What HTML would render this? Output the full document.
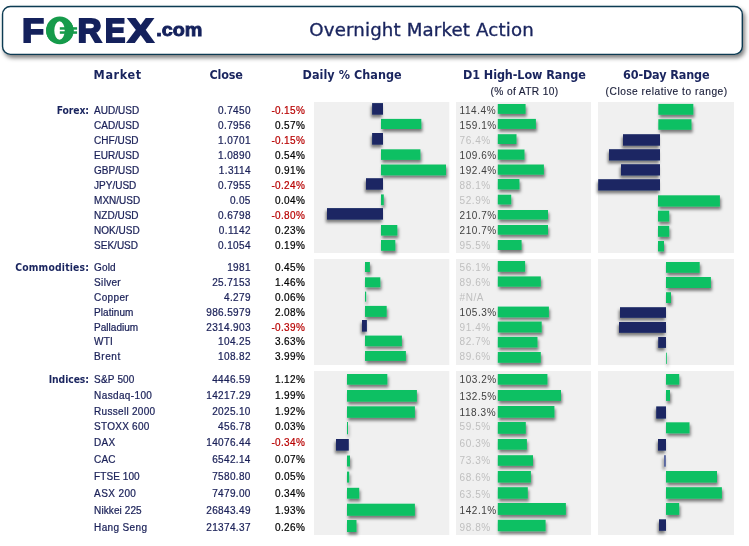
<!DOCTYPE html>
<html lang="en"><head><meta charset="utf-8"><title>Overnight Market Action</title>
<style>
html,body{margin:0;padding:0;background:#fff;}
body{width:749px;height:546px;overflow:hidden;position:relative;font-family:"Liberation Sans",sans-serif;}
svg{position:absolute;left:0;top:0;display:block;}
text{font-family:"Liberation Sans",sans-serif;font-size:10px;}
.hd{font-family:"DejaVu Sans Condensed","DejaVu Sans","Liberation Sans",sans-serif;font-weight:bold;font-size:12.5px;fill:#19245e;}
.sub{font-size:10.2px;fill:#1b1f3a;stroke:#1b1f3a;stroke-width:0.15px;}
.cat{font-family:"DejaVu Sans Condensed","DejaVu Sans","Liberation Sans",sans-serif;font-weight:bold;font-size:10.3px;fill:#19245e;text-anchor:end;}
.mk{fill:#1a2058;stroke:#1a2058;stroke-width:0.22px;}
.cl{fill:#1a2058;stroke:#1a2058;stroke-width:0.22px;text-anchor:end;letter-spacing:0.35px;}
.pc{fill:#000;stroke:#000;stroke-width:0.2px;text-anchor:end;letter-spacing:0.35px;}
.neg{fill:#b80000;stroke:#b80000;}
.lb{fill:#404040;letter-spacing:0.55px;}
.lo{fill:#bfbfbf;}
.logo{font-weight:bold;fill:#14215c;stroke:#14215c;stroke-linejoin:miter;}
</style></head><body>
<svg width="749" height="546" viewBox="0 0 749 546">
<defs>
<filter id="bs" filterUnits="userSpaceOnUse" x="300" y="95" width="449" height="451"><feDropShadow dx="1.1" dy="2.8" stdDeviation="1.8" flood-color="#000" flood-opacity="0.5"/></filter>
<filter id="bn" filterUnits="userSpaceOnUse" x="300" y="95" width="449" height="451"><feDropShadow dx="-1.1" dy="2.8" stdDeviation="1.8" flood-color="#000" flood-opacity="0.5"/></filter>
<filter id="hs" filterUnits="userSpaceOnUse" x="-5" y="-5" width="760" height="80"><feDropShadow dx="2" dy="3" stdDeviation="2.2" flood-color="#000" flood-opacity="0.5"/></filter>
</defs>

<rect x="2.55" y="6.5" width="739.75" height="47.9" rx="7.8" ry="7.8" fill="#fff" stroke="#0d3b52" stroke-width="1.4" filter="url(#hs)"/>
<g class="logo" role="img" aria-label="FOREX.com"><title>FOREX.com</title>
<ellipse cx="59.75" cy="30.35" rx="13.65" ry="13.85" style="fill:#169b4b;stroke:none"/>
<text transform="translate(22.3,41.9) scale(1.09,1)" style="font-size:32.5px;stroke-width:2.2;">F</text>
<text transform="translate(44.9,43.3) scale(1.15,1.06)" style="font-size:33.5px;stroke-width:0.5;fill:#169b4b;stroke:#169b4b">O</text>
<ellipse cx="59.5" cy="30.5" rx="5.2" ry="9.3" style="fill:#fff;stroke:none"/>
<text transform="translate(77.7,41.9) scale(1.013,1)" style="font-size:32.5px;stroke-width:2.2;">R</text>
<text transform="translate(104.95,41.9) scale(0.935,1)" style="font-size:32.5px;stroke-width:2.2;">E</text>
<text transform="translate(127.95,41.9) scale(1.165,1)" style="font-size:32.5px;stroke-width:2.2;">X</text>
<text transform="translate(156.3,35.5) scale(1.03,1)" style="font-size:19.2px;stroke-width:0.9;">.com</text>
</g>
<rect x="59.8" y="27.2" width="17.3" height="2.5" fill="#169b4b"/><rect x="59.8" y="31.3" width="17.3" height="2.5" fill="#169b4b"/>
<text x="309.3" y="36.3" style="font-family:'DejaVu Sans','Liberation Sans',sans-serif;font-size:18.2px;stroke:#19245e;stroke-width:0.35px" fill="#19245e" textLength="224.4" lengthAdjust="spacing">Overnight Market Action</text>
<text class="hd" x="93.6" y="79" textLength="47.6">Market</text>
<text class="hd" x="209.5" y="79" textLength="33.5">Close</text>
<text class="hd" x="302.5" y="79" textLength="99.2">Daily % Change</text>
<text class="hd" x="463" y="79" textLength="122.8">D1 High-Low Range</text>
<text class="hd" x="623" y="79" textLength="86.6">60-Day Range</text>
<text class="sub" x="490.6" y="94.7" textLength="67.6">(% of ATR 10)</text>
<text class="sub" x="605.6" y="94.7" textLength="121.6">(Close relative to range)</text>
<rect x="314" y="102" width="135.3" height="151" fill="#f0f0f0"/>
<rect x="314" y="259" width="135.3" height="106" fill="#f0f0f0"/>
<rect x="314" y="371" width="135.3" height="164" fill="#f0f0f0"/>
<rect x="456" y="102" width="135" height="151" fill="#f0f0f0"/>
<rect x="456" y="259" width="135" height="106" fill="#f0f0f0"/>
<rect x="456" y="371" width="135" height="164" fill="#f0f0f0"/>
<rect x="598" y="102" width="136" height="151" fill="#f0f0f0"/>
<rect x="598" y="259" width="136" height="106" fill="#f0f0f0"/>
<rect x="598" y="371" width="136" height="164" fill="#f0f0f0"/>
<g filter="url(#bs)">
<rect x="381" y="118.9" width="40.3" height="10.1" fill="#0fc064"/>
<rect x="381" y="149.3" width="39.4" height="10.6" fill="#0fc064"/>
<rect x="381" y="164.5" width="65.0" height="10.8" fill="#0fc064"/>
<rect x="381" y="194.4" width="2.8" height="10.8" fill="#0fc064"/>
<rect x="381" y="225" width="16.3" height="10.6" fill="#0fc064"/>
<rect x="381" y="240" width="14.3" height="10.8" fill="#0fc064"/>
<rect x="365" y="262" width="4.9" height="10.0" fill="#0fc064"/>
<rect x="365" y="277.3" width="15.3" height="9.9" fill="#0fc064"/>
<rect x="365" y="291.6" width="1.2" height="10.1" fill="#0fc064"/>
<rect x="365" y="305.9" width="21.7" height="11.0" fill="#0fc064"/>
<rect x="365" y="335.6" width="36.9" height="10.6" fill="#0fc064"/>
<rect x="365" y="351" width="40.9" height="9.9" fill="#0fc064"/>
<rect x="347" y="374" width="40.3" height="10.7" fill="#0fc064"/>
<rect x="347" y="390" width="69.9" height="11.7" fill="#0fc064"/>
<rect x="347" y="406.3" width="67.9" height="11.5" fill="#0fc064"/>
<rect x="347" y="422" width="1.0" height="12.3" fill="#0fc064"/>
<rect x="347" y="455.5" width="3.0" height="11.0" fill="#0fc064"/>
<rect x="347" y="471.6" width="2.2" height="11.0" fill="#0fc064"/>
<rect x="347" y="487.8" width="12.2" height="10.9" fill="#0fc064"/>
<rect x="347" y="503.7" width="67.9" height="12.1" fill="#0fc064"/>
<rect x="347" y="520" width="9.5" height="12.0" fill="#0fc064"/>
<rect x="658.3" y="103.9" width="35.0" height="10.9" fill="#0fc064"/>
<rect x="658.3" y="119.2" width="33.2" height="10.6" fill="#0fc064"/>
<rect x="658" y="195.3" width="61.9" height="11.3" fill="#0fc064"/>
<rect x="658" y="210.7" width="11.2" height="10.9" fill="#0fc064"/>
<rect x="658" y="225.9" width="11.2" height="10.9" fill="#0fc064"/>
<rect x="658" y="241" width="6.0" height="10.5" fill="#0fc064"/>
<rect x="666" y="262" width="33.7" height="10.8" fill="#0fc064"/>
<rect x="666" y="277" width="44.9" height="11.0" fill="#0fc064"/>
<rect x="666" y="292.2" width="5.0" height="10.8" fill="#0fc064"/>
<rect x="666" y="352.7" width="0.8" height="11.2" fill="#0fc064"/>
<rect x="666" y="374" width="13.2" height="10.7" fill="#0fc064"/>
<rect x="666" y="390" width="4.0" height="10.9" fill="#0fc064"/>
<rect x="666" y="422.3" width="23.5" height="11.0" fill="#0fc064"/>
<rect x="666" y="471" width="51.0" height="11.6" fill="#0fc064"/>
<rect x="666" y="487.2" width="55.9" height="11.5" fill="#0fc064"/>
<rect x="666" y="503" width="13.2" height="11.9" fill="#0fc064"/>
<rect x="497.8" y="104" width="27.8" height="9.9" fill="#0fc064"/>
<rect x="497.8" y="118.9" width="38.1" height="10.0" fill="#0fc064"/>
<rect x="497.8" y="134.2" width="18.7" height="9.8" fill="#0fc064"/>
<rect x="497.8" y="149.5" width="26.7" height="10.2" fill="#0fc064"/>
<rect x="497.8" y="164.5" width="46.1" height="10.2" fill="#0fc064"/>
<rect x="497.8" y="179" width="21.6" height="10.4" fill="#0fc064"/>
<rect x="497.8" y="194.7" width="13.4" height="9.7" fill="#0fc064"/>
<rect x="497.8" y="210" width="50.2" height="9.5" fill="#0fc064"/>
<rect x="497.8" y="225" width="50.2" height="9.7" fill="#0fc064"/>
<rect x="497.8" y="240" width="23.8" height="10.0" fill="#0fc064"/>
<rect x="497.8" y="261" width="27.3" height="10.8" fill="#0fc064"/>
<rect x="497.8" y="276.4" width="43.0" height="10.3" fill="#0fc064"/>
<rect x="497.8" y="306.6" width="51.1" height="10.7" fill="#0fc064"/>
<rect x="497.8" y="321.5" width="43.9" height="11.0" fill="#0fc064"/>
<rect x="497.8" y="336.9" width="39.7" height="10.6" fill="#0fc064"/>
<rect x="497.8" y="352" width="43.0" height="10.8" fill="#0fc064"/>
<rect x="497.8" y="374" width="49.6" height="10.7" fill="#0fc064"/>
<rect x="497.8" y="390" width="63.2" height="10.9" fill="#0fc064"/>
<rect x="497.8" y="406" width="56.6" height="11.7" fill="#0fc064"/>
<rect x="497.8" y="422" width="28.0" height="11.8" fill="#0fc064"/>
<rect x="497.8" y="439" width="29.1" height="10.7" fill="#0fc064"/>
<rect x="497.8" y="455.2" width="35.2" height="10.6" fill="#0fc064"/>
<rect x="497.8" y="471" width="33.1" height="11.6" fill="#0fc064"/>
<rect x="497.8" y="487.2" width="30.0" height="11.5" fill="#0fc064"/>
<rect x="497.8" y="503" width="68.1" height="11.9" fill="#0fc064"/>
<rect x="497.8" y="519.8" width="47.8" height="11.4" fill="#0fc064"/>
</g>
<g filter="url(#bn)">
<rect x="372.1" y="103.1" width="10.9" height="11.6" fill="#1a2864"/>
<rect x="372.1" y="133" width="10.9" height="11.7" fill="#1a2864"/>
<rect x="366" y="178.2" width="17.0" height="11.5" fill="#1a2864"/>
<rect x="327" y="208.1" width="56.0" height="11.5" fill="#1a2864"/>
<rect x="362" y="320" width="4.9" height="11.6" fill="#1a2864"/>
<rect x="336" y="439" width="12.8" height="11.6" fill="#1a2864"/>
<rect x="623" y="134.2" width="37.0" height="11.5" fill="#1a2864"/>
<rect x="609" y="149.2" width="51.0" height="11.3" fill="#1a2864"/>
<rect x="621" y="164.2" width="39.0" height="11.3" fill="#1a2864"/>
<rect x="598.2" y="179.2" width="61.8" height="11.3" fill="#1a2864"/>
<rect x="620" y="307.2" width="46.0" height="10.6" fill="#1a2864"/>
<rect x="619" y="322" width="47.0" height="10.8" fill="#1a2864"/>
<rect x="658.2" y="337" width="7.8" height="10.9" fill="#1a2864"/>
<rect x="656.2" y="406.4" width="9.8" height="12.2" fill="#1a2864"/>
<rect x="658" y="439" width="8.0" height="11.6" fill="#1a2864"/>
<rect x="664" y="455.2" width="1.9" height="11.5" fill="#5a68a0"/>
<rect x="659" y="519.3" width="7.0" height="11.5" fill="#1a2864"/>
</g>
<text class="cat" x="89" y="113.6" textLength="32.3">Forex:</text>
<text class="mk" x="94.1" y="113.6">AUD/USD</text>
<text class="cl" x="250.8" y="113.6">0.7450</text>
<text class="pc neg" x="305.2" y="113.6">-0.15%</text>
<text class="lb" x="459.6" y="113.6">114.4%</text>
<text class="mk" x="94.1" y="128.6">CAD/USD</text>
<text class="cl" x="250.8" y="128.6">0.7956</text>
<text class="pc" x="305.2" y="128.6">0.57%</text>
<text class="lb" x="459.6" y="128.6">159.1%</text>
<text class="mk" x="94.1" y="143.6">CHF/USD</text>
<text class="cl" x="250.8" y="143.6">1.0701</text>
<text class="pc neg" x="305.2" y="143.6">-0.15%</text>
<text class="lb lo" x="459.6" y="143.6">76.4%</text>
<text class="mk" x="94.1" y="158.6">EUR/USD</text>
<text class="cl" x="250.8" y="158.6">1.0890</text>
<text class="pc" x="305.2" y="158.6">0.54%</text>
<text class="lb" x="459.6" y="158.6">109.6%</text>
<text class="mk" x="94.1" y="173.6">GBP/USD</text>
<text class="cl" x="250.8" y="173.6">1.3114</text>
<text class="pc" x="305.2" y="173.6">0.91%</text>
<text class="lb" x="459.6" y="173.6">192.4%</text>
<text class="mk" x="94.1" y="188.6">JPY/USD</text>
<text class="cl" x="250.8" y="188.6">0.7955</text>
<text class="pc neg" x="305.2" y="188.6">-0.24%</text>
<text class="lb lo" x="459.6" y="188.6">88.1%</text>
<text class="mk" x="94.1" y="203.6">MXN/USD</text>
<text class="cl" x="250.8" y="203.6">0.05</text>
<text class="pc" x="305.2" y="203.6">0.04%</text>
<text class="lb lo" x="459.6" y="203.6">52.9%</text>
<text class="mk" x="94.1" y="218.6">NZD/USD</text>
<text class="cl" x="250.8" y="218.6">0.6798</text>
<text class="pc neg" x="305.2" y="218.6">-0.80%</text>
<text class="lb" x="459.6" y="218.6">210.7%</text>
<text class="mk" x="94.1" y="233.6">NOK/USD</text>
<text class="cl" x="250.8" y="233.6">0.1142</text>
<text class="pc" x="305.2" y="233.6">0.23%</text>
<text class="lb" x="459.6" y="233.6">210.7%</text>
<text class="mk" x="94.1" y="248.6">SEK/USD</text>
<text class="cl" x="250.8" y="248.6">0.1054</text>
<text class="pc" x="305.2" y="248.6">0.19%</text>
<text class="lb lo" x="459.6" y="248.6">95.5%</text>
<text class="cat" x="89" y="270.7" textLength="73.8">Commodities:</text>
<text class="mk" x="94.1" y="270.7" textLength="21.5">Gold</text>
<text class="cl" x="250.8" y="270.7">1981</text>
<text class="pc" x="305.2" y="270.7">0.45%</text>
<text class="lb lo" x="459.6" y="270.7">56.1%</text>
<text class="mk" x="94.1" y="285.65" textLength="26.6">Silver</text>
<text class="cl" x="250.8" y="285.65">25.7153</text>
<text class="pc" x="305.2" y="285.65">1.46%</text>
<text class="lb lo" x="459.6" y="285.65">89.6%</text>
<text class="mk" x="94.1" y="300.6" textLength="34.6">Copper</text>
<text class="cl" x="250.8" y="300.6">4.279</text>
<text class="pc" x="305.2" y="300.6">0.06%</text>
<text class="lb lo" x="459.6" y="300.6">#N/A</text>
<text class="mk" x="94.1" y="315.55" textLength="39.3">Platinum</text>
<text class="cl" x="250.8" y="315.55">986.5979</text>
<text class="pc" x="305.2" y="315.55">2.08%</text>
<text class="lb" x="459.6" y="315.55">105.3%</text>
<text class="mk" x="94.1" y="330.5" textLength="44.0">Palladium</text>
<text class="cl" x="250.8" y="330.5">2314.903</text>
<text class="pc neg" x="305.2" y="330.5">-0.39%</text>
<text class="lb lo" x="459.6" y="330.5">91.4%</text>
<text class="mk" x="94.1" y="345.45" textLength="18.6">WTI</text>
<text class="cl" x="250.8" y="345.45">104.25</text>
<text class="pc" x="305.2" y="345.45">3.63%</text>
<text class="lb lo" x="459.6" y="345.45">82.7%</text>
<text class="mk" x="94.1" y="360.4" textLength="26.1">Brent</text>
<text class="cl" x="250.8" y="360.4">108.82</text>
<text class="pc" x="305.2" y="360.4">3.99%</text>
<text class="lb lo" x="459.6" y="360.4">89.6%</text>
<text class="cat" x="89" y="382.9" textLength="40.3">Indices:</text>
<text class="mk" x="94.1" y="382.9" textLength="40.3">S&amp;P 500</text>
<text class="cl" x="250.8" y="382.9">4446.59</text>
<text class="pc" x="305.2" y="382.9">1.12%</text>
<text class="lb" x="459.6" y="383.1">103.2%</text>
<text class="mk" x="94.1" y="399.3" textLength="57.8">Nasdaq-100</text>
<text class="cl" x="250.8" y="399.3">14217.29</text>
<text class="pc" x="305.2" y="399.3">1.99%</text>
<text class="lb" x="459.6" y="399.6">132.5%</text>
<text class="mk" x="94.1" y="415" textLength="61.0">Russell 2000</text>
<text class="cl" x="250.8" y="415">2025.10</text>
<text class="pc" x="305.2" y="415">1.92%</text>
<text class="lb" x="459.6" y="415.6">118.3%</text>
<text class="mk" x="94.1" y="430.1" textLength="55.2">STOXX 600</text>
<text class="cl" x="250.8" y="430.1">456.78</text>
<text class="pc" x="305.2" y="430.1">0.03%</text>
<text class="lb lo" x="459.6" y="430.4">59.5%</text>
<text class="mk" x="94.1" y="446" textLength="21.0">DAX</text>
<text class="cl" x="250.8" y="446">14076.44</text>
<text class="pc neg" x="305.2" y="446">-0.34%</text>
<text class="lb lo" x="459.6" y="446.6">60.3%</text>
<text class="mk" x="94.1" y="463" textLength="21.5">CAC</text>
<text class="cl" x="250.8" y="463">6542.14</text>
<text class="pc" x="305.2" y="463">0.07%</text>
<text class="lb lo" x="459.6" y="463.6">73.3%</text>
<text class="mk" x="94.1" y="480" textLength="45.5">FTSE 100</text>
<text class="cl" x="250.8" y="480">7580.80</text>
<text class="pc" x="305.2" y="480">0.05%</text>
<text class="lb lo" x="459.6" y="480.6">68.6%</text>
<text class="mk" x="94.1" y="496.9" textLength="41.8">ASX 200</text>
<text class="cl" x="250.8" y="496.9">7479.00</text>
<text class="pc" x="305.2" y="496.9">0.34%</text>
<text class="lb lo" x="459.6" y="497.5">63.5%</text>
<text class="mk" x="94.1" y="513.8" textLength="47.5">Nikkei 225</text>
<text class="cl" x="250.8" y="513.8">26843.49</text>
<text class="pc" x="305.2" y="513.8">1.93%</text>
<text class="lb" x="459.6" y="514.2">142.1%</text>
<text class="mk" x="94.1" y="530.8" textLength="52.9">Hang Seng</text>
<text class="cl" x="250.8" y="530.8">21374.37</text>
<text class="pc" x="305.2" y="530.8">0.26%</text>
<text class="lb lo" x="459.6" y="531.2">98.8%</text>
</svg>
</body></html>
